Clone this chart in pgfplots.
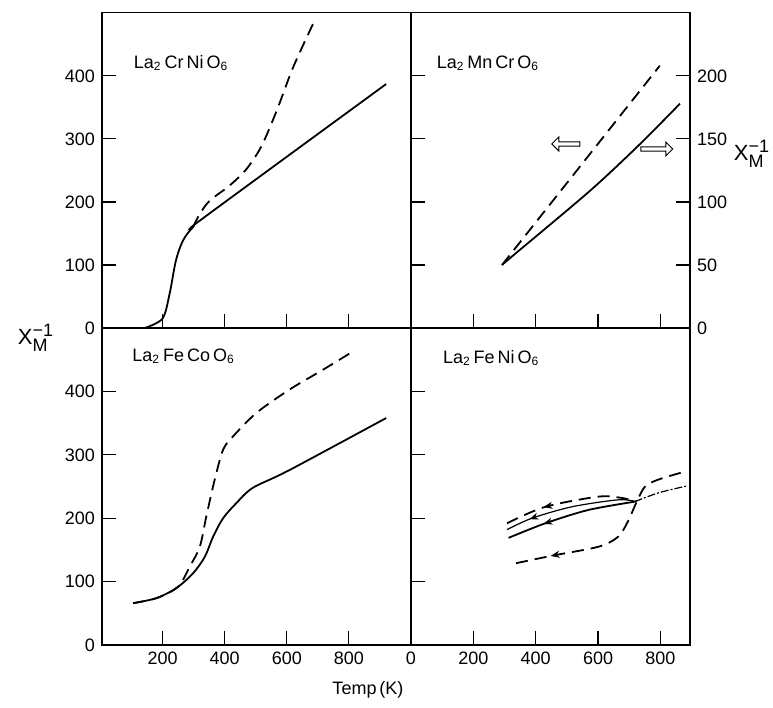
\documentclass[border=0pt]{standalone}
\usepackage{fontspec}
\setmainfont{Liberation Sans}
\usepackage{pgfplots}
\pgfplotsset{compat=1.18}
\usetikzlibrary{shapes.arrows,arrows.meta}

\pgfplotsset{
  panel/.style={scale only axis, anchor=south west,
    axis line style={line width=0.6pt}, tick style={black, line width=0.6pt},
    major tick length=7pt, tick align=inside,
    xtick pos=lower, ytick pos=left,
    ticklabel style={font=\fontsize{9}{10}\selectfont},
    /pgf/number format/assume math mode=true,
    clip=false},
  crv/.style={black, line width=0.9pt, smooth, tension=0.5},
  dsh/.style={black, line width=0.9pt, smooth, tension=0.5, dash pattern=on 6pt off 3.5pt},
  tip/.style={black, line width=0.6pt, -{Stealth[length=4.5pt,width=3.5pt]}},
}
\newcommand{\lab}[1]{\fontsize{9}{10}\selectfont #1}

\begin{document}
\begin{tikzpicture}
\useasboundingbox (0,0) rectangle (386.5pt,354pt);

% top left
\begin{axis}[panel, at={(51pt,190pt)}, width=154.5pt, height=157.6pt,
  xmin=5, xmax=1000, ymin=0, ymax=500,
  xtick={200,400,600,800}, xticklabels={},
  ytick={0,100,200,300,400}]
\addplot[crv] coordinates {(143,0) (200,15) (223,55) (243,107) (266,139) (298,160) (341,178) (920,387)};
\addplot[dsh] coordinates {(298,160) (320,181) (352,202) (416,226) (470,252) (518,288) (567,344) (620,413) (687,485)};
\node[anchor=west] at (axis cs:85,420) {\lab{La\textsubscript{2}\,Cr\,Ni\,O\textsubscript{6}}};
\end{axis}

% top right
\begin{axis}[panel, at={(205.5pt,190pt)}, width=139.5pt, height=157.6pt,
  xmin=0, xmax=895, ymin=0, ymax=250,
  xtick={200,400,600,800}, xticklabels={},
  ytick={0,50,100,150,200}, ytick pos=both, yticklabel pos=right]
\addplot[dsh] coordinates {(292,50) (798,208)};
\addplot[crv] coordinates {(292,50) (330,58) (575,109) (735,146) (863,178)};
\node[anchor=west] at (axis cs:60,210) {\lab{La\textsubscript{2}\,Mn\,Cr\,O\textsubscript{6}}};
\node[single arrow, draw, line width=0.5pt, minimum height=14pt, minimum width=7pt,
  single arrow head extend=2pt, inner sep=0.6pt, shape border rotate=180] at (axis cs:500,146) {};
\node[single arrow, draw, line width=0.5pt, minimum height=16pt, minimum width=7pt,
  single arrow head extend=2pt, inner sep=0.6pt] at (axis cs:785,142) {};
\end{axis}

% bottom left
\begin{axis}[panel, at={(51pt,31.5pt)}, width=154.5pt, height=158.5pt,
  xmin=5, xmax=1000, ymin=0, ymax=500,
  xtick={200,400,600,800},
  ytick={0,100,200,300,400}]
\addplot[crv] coordinates {(105,66) (181,74) (245,90) (298,113) (336,139) (363,171) (395,200) (438,224) (491,248) (609,276) (920,358)};
\addplot[dsh] coordinates {(105,66) (181,74) (250,92) (288,124) (320,155) (341,203) (368,261) (395,308) (427,329) (502,366) (609,403) (716,434) (813,463)};
\node[anchor=west] at (axis cs:80,455) {\lab{La\textsubscript{2}\,Fe\,Co\,O\textsubscript{6}}};
\end{axis}

% bottom right
\begin{axis}[panel, at={(205.5pt,31.5pt)}, width=139.5pt, height=158.5pt,
  xmin=0, xmax=895, ymin=0, ymax=500,
  xtick={0,200,400,600,800},
  ytick={100,200,300,400}, yticklabels={}]
\addplot[dsh] coordinates {(308,192) (431,218) (601,234) (676,232) (724,226)};
\addplot[crv, line width=0.6pt] coordinates {(308,182) (388,200) (516,218) (665,229) (724,226)};
\addplot[crv] coordinates {(313,169) (431,192) (569,213) (717,226)};
\addplot[black, line width=0.6pt, smooth, dash pattern=on 4pt off 1pt on 1pt off 1pt] coordinates {(717,226) (794,240) (886,251)};
\addplot[dsh] coordinates {(337,129) (454,141) (601,155) (665,171) (698,197) (724,226) (751,250) (794,261) (882,274)};
% direction arrowheads on the cooling curves
\addplot[tip] coordinates {(450,220) (425,217.5)};
\addplot[tip] coordinates {(400,202) (380,198.5)};
\addplot[tip] coordinates {(450,195) (425,191)};
\addplot[tip] coordinates {(475,143) (448,140.5)};
\node[anchor=west] at (axis cs:80,453) {\lab{La\textsubscript{2}\,Fe\,Ni\,O\textsubscript{6}}};
\end{axis}

\node at (18pt,185pt) {\fontsize{11}{12}\selectfont X$_{\hbox{\fontsize{9}{10}\selectfont M}}^{\hbox{\fontsize{9}{10}\selectfont −1}}$};
\node at (376pt,277pt) {\fontsize{11}{12}\selectfont X$_{\hbox{\fontsize{9}{10}\selectfont M}}^{\hbox{\fontsize{9}{10}\selectfont −1}}$};
\node at (184pt,9pt) {\lab{Temp\,(K)}};
\end{tikzpicture}
\end{document}
